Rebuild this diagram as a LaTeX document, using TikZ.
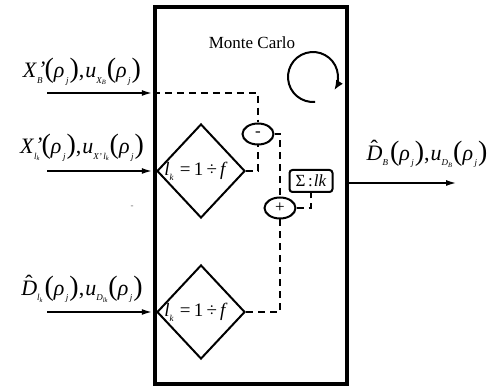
\documentclass[tikz,border=0pt]{standalone}
\usepackage{fontspec}
\setmainfont{Liberation Serif}
\usetikzlibrary{arrows.meta,shapes.geometric}
\newcommand\sbx[1]{\raisebox{-0.55ex}{\fontsize{9}{9}\selectfont\itshape #1}}
\newcommand\ssbx[1]{\raisebox{-0.35ex}{\fontsize{6.5}{6.5}\selectfont\itshape #1}}
\newcommand\bigp[1]{{\fontsize{28}{28}\selectfont #1}}
\newcommand\rhoj{\bigp{(}\textit{ρ}\kern1.5pt\sbx{j}\kern1pt\bigp{)}}
\newcommand\hatD{\rlap{\kern4pt\raisebox{0.22em}{ˆ}}\textit{D}}
\newcommand\prm{\rlap{\kern1pt\raisebox{0.05em}{\textit{'}}}}
\begin{document}
\begin{tikzpicture}[x=1pt,y=-1pt,
  lab/.style={font=\fontsize{22}{22}\selectfont, inner sep=0pt},
  inarrow/.style={line width=2pt,-{Latex[length=11pt,width=6pt]}},
  dsh/.style={line width=2pt,dash pattern=on 7pt off 5pt},
  dia/.style={draw,line width=2pt,diamond,minimum width=88pt,minimum height=94pt,inner sep=0pt},
  dtext/.style={font=\fontsize{19}{19}\selectfont,inner sep=0pt},
  oval/.style={draw,line width=2pt,ellipse,minimum width=31pt,minimum height=21pt,inner sep=0pt,font=\fontsize{17}{17}\selectfont}]
\useasboundingbox (0,0) rectangle (493,387);
% main box
\node[draw,line width=4.5pt,minimum width=192pt,minimum height=377pt,inner sep=0pt] (box) at (251,195.5) {};
\node[font=\fontsize{17}{17}\selectfont] (mctext) at (252,43) {Monte Carlo};
\coordinate (mc) at (313,77);
\draw[line width=2pt,-{Latex[length=10pt,width=8pt]}] (mc) ++(275:25pt) arc[start angle=275,end angle=-32,radius=25pt];
% diamonds and operators
\node[dia] (d1) at (201,171) {};
\node[dtext] (t1) at (196,171) {\textit{l}\sbx{k}\,\,=\,1\,÷\,\textit{f}};
\node[dia] (d2) at (201,312) {};
\node[dtext] (t2) at (196,312) {\textit{l}\sbx{k}\,\,=\,1\,÷\,\textit{f}};
\node[oval] (minus) at (258,134) {-};
\node[oval] (plus) at (280,208) {+};
\node[draw,line width=2pt,rounded corners=3pt,minimum width=43pt,minimum height=22pt,inner sep=1pt,font=\fontsize{17}{17}\selectfont] (sig) at (311,181) {Σ\,:\kern1pt\textit{lk}};
% inputs
\coordinate (s1) at (47,93);
\coordinate (s2) at (47,171);
\coordinate (s3) at (47,312);
\draw[inarrow] (s1) -- (s1 -| box.west);
\draw[inarrow] (s2) -- (s2 -| box.west);
\draw[inarrow] (s3) -- (s3 -| box.west);
\node[lab] (l1) at (82,72) {\textit{X}\prm\sbx{B}\kern2pt\rhoj,\kern1pt\textit{u}\sbx{X\ssbx{B}}\kern1pt\rhoj};
\node[lab] (l2) at (82,148) {\textit{X}\prm\sbx{l\ssbx{k}}\kern2pt\rhoj,\kern1pt\textit{u}\sbx{X'\,l\ssbx{k}}\kern1pt\rhoj};
\node[lab] (l3) at (82,289) {\hatD\sbx{l\ssbx{k}}\kern2pt\rhoj,\kern1pt\textit{u}\sbx{D\ssbx{lk}}\kern1pt\rhoj};
% output
\coordinate (o1) at (457,183);
\draw[inarrow] (o1 -| box.east) -- (o1);
\node[lab] (lo) at (427,154) {\hatD\sbx{B}\kern2pt\rhoj,\kern1pt\textit{u}\sbx{D\ssbx{B}}\kern1pt\rhoj};
% dashed links
\draw[dsh] (s1 -| box.west) -| (minus.north);
\draw[dsh] (d1.east) -| (minus.south);
\draw[dsh] (minus.east) -| (plus.north);
\draw[dsh] (plus.east) -| (sig.south);
\draw[dsh] (plus.south) |- (d2.east);
% stray mark
\node[font=\fontsize{9}{9}\selectfont,text=black!60] (stray) at (132,207) {-};
\end{tikzpicture}
\end{document}
